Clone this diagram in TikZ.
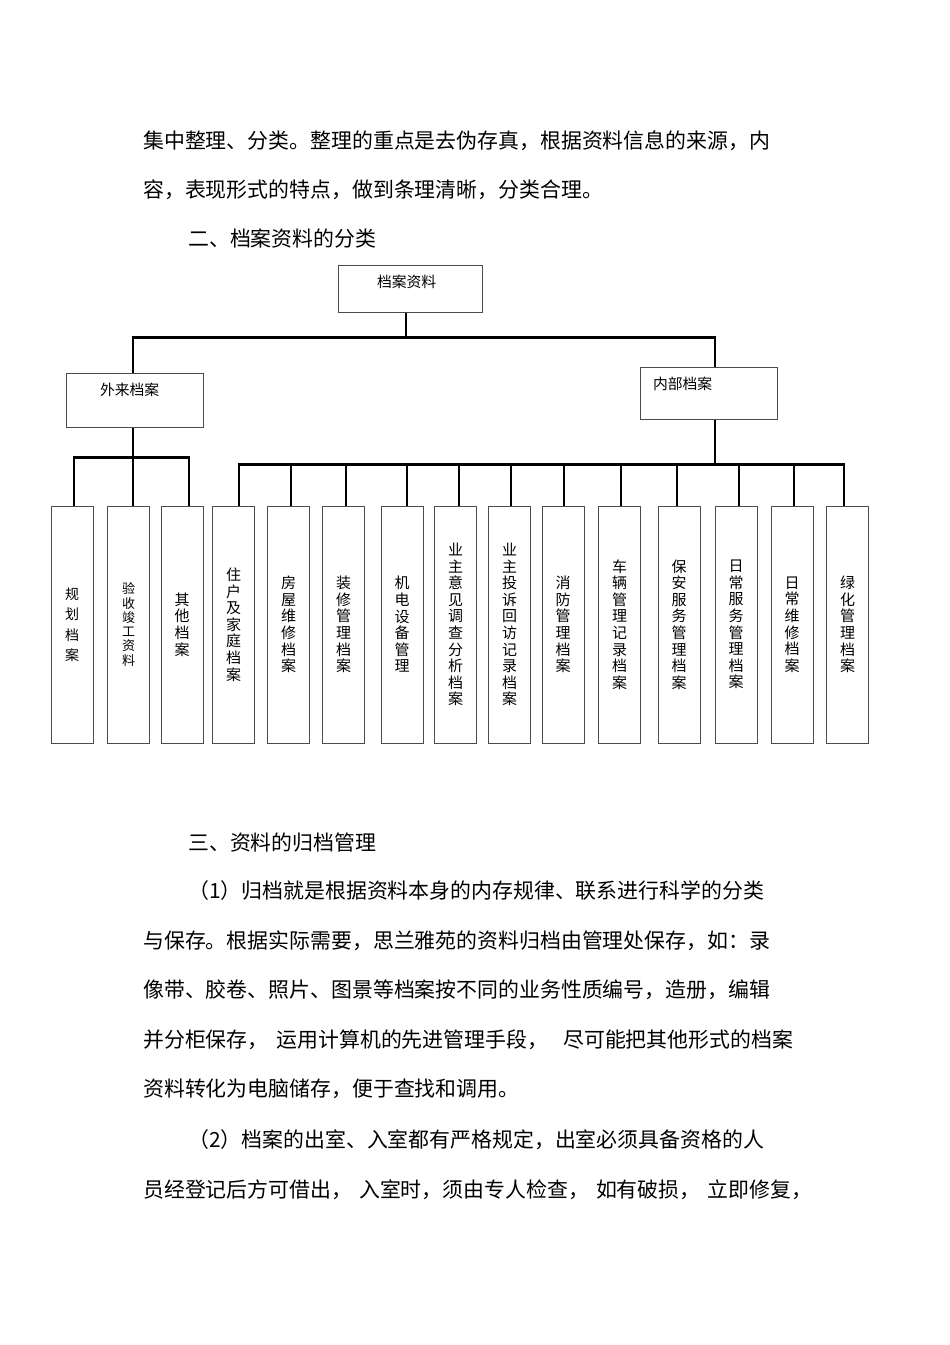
\documentclass[tikz,border=0pt]{standalone}
\usepackage{fontspec}
\setmainfont{Noto Sans CJK SC}
\newfontfamily\cjk{Noto Sans CJK SC}
\newcommand{\bodyfont}{\fontsize{20.9}{25}\cjk}
\newcommand{\lblfont}{\fontsize{14.8}{17}\cjk}
\newcommand{\leaffont}{\fontsize{15}{16.6}\cjk}
\tikzset{
    body/.style={anchor=west,inner sep=0pt,font=\bodyfont,text height=18.4pt,text depth=2.5pt},
    hdbox/.style={draw=black!70,line width=1pt,align=left,inner ysep=0pt,font=\lblfont,text height=13pt},
    leaf/.style={draw=black!70,line width=1pt,minimum width=42pt,minimum height=237pt,inner sep=0pt,align=center,font=\leaffont}
}

\begin{document}
\begin{tikzpicture}[x=1pt,y=-1pt]
        \useasboundingbox (0,0) rectangle (950,1345);
        %---
        \node[body] (p1) at (143,141) {集中整理、分类。整理的重点是去伪存真，根据资料信息的来源，内};
        \node[body] (p2) at (143,190) {容，表现形式的特点，做到条理清晰，分类合理。};
        \node[body] (h2) at (188,239) {二、档案资料的分类};

        \node[body] (h3) at (188,843) {三、资料的归档管理};
        \node[body] (q1) at (188,891) {（1）归档就是根据资料本身的内存规律、联系进行科学的分类};
        \node[body] (q2) at (143,941) {与保存。根据实际需要，思兰雅苑的资料归档由管理处保存，如：录};
        \node[body] (q3) at (143,990) {像带、胶卷、照片、图景等档案按不同的业务性质编号，造册，编辑};
        \node[body] (q4) at (143,1040) {并分柜保存，\hspace{8pt}运用计算机的先进管理手段，\hspace{15pt}尽可能把其他形式的档案};
        \node[body] (q5) at (143,1089) {资料转化为电脑储存，便于查找和调用。};
        \node[body] (r1) at (188,1140) {（2）档案的出室、入室都有严格规定，出室必须具备资格的人};
        \node[body] (r2) at (143,1190) {员经登记后方可借出，\hspace{7pt}入室时，须由专人检查，\hspace{7pt}如有破损，\hspace{7pt}立即修复，};

        %---
        \node[hdbox,minimum height=47pt,text width=66pt,inner xsep=39pt,text depth=14.8pt] (root) at (410,288.5) {档案资料};
        \node[hdbox,minimum height=54pt,text width=69pt,inner xsep=34pt,text depth=21.8pt] (wailai) at (134.5,400) {外来档案};
        \node[hdbox,minimum height=52pt,text width=111pt,inner xsep=13pt,text depth=19.8pt] (neibu) at (708.5,393) {内部档案};

        \node[leaf,font={\fontsize{14}{20.5}\cjk}] (guihua) at (72,624.5) {规\\划\\档\\案};
        \node[leaf,font={\fontsize{13}{14.3}\cjk}] (yanshou) at (128.5,624.5) {验\\收\\竣\\工\\资\\料};
        \node[leaf] (qita) at (182,624.5) {其\\他\\档\\案};
        \node[leaf] (zhuhu) at (233.5,624.5) {住\\户\\及\\家\\庭\\档\\案};
        \node[leaf] (fangwu) at (288.5,624.5) {房\\屋\\维\\修\\档\\案};
        \node[leaf] (zhuangxiu) at (343.5,624.5) {装\\修\\管\\理\\档\\案};
        \node[leaf] (jidian) at (402,624.5) {机\\电\\设\\备\\管\\理};
        \node[leaf] (yijian) at (455.5,624.5) {业\\主\\意\\见\\调\\查\\分\\析\\档\\案};
        \node[leaf] (tousu) at (509.5,624.5) {业\\主\\投\\诉\\回\\访\\记\\录\\档\\案};
        \node[leaf] (xiaofang) at (563,624.5) {消\\防\\管\\理\\档\\案};
        \node[leaf] (cheliang) at (619.5,624.5) {车\\辆\\管\\理\\记\\录\\档\\案};
        \node[leaf] (baoan) at (679,624.5) {保\\安\\服\\务\\管\\理\\档\\案};
        \node[leaf] (richang) at (736,624.5) {日\\常\\服\\务\\管\\理\\档\\案};
        \node[leaf] (weixiu) at (792,624.5) {日\\常\\维\\修\\档\\案};
        \node[leaf] (lvhua) at (847.5,624.5) {绿\\化\\管\\理\\档\\案};

        \begin{scope}[every path/.style={line width=2.2pt}]
            \draw ([xshift=-4pt]root.south) -- ++(0,25) coordinate (rbus);
            \draw ([xshift=-1.5pt]wailai.north) |- (rbus) -| ([xshift=6.5pt]neibu.north);
            % outside branch
            \draw ([xshift=-1.5pt]wailai.south) -- ++(0,30) coordinate (wbus);
            \draw ([xshift=2pt]guihua.north) |- (wbus) -| ([xshift=7pt]qita.north);
            \draw (wbus) -- ([xshift=4.5pt]yanshou.north);
            % inside branch
            \draw ([xshift=6.5pt]neibu.south) -- ++(0,45) coordinate (nbus);
            \draw ([xshift=5.5pt]zhuhu.north) |- (nbus) -| ([xshift=-3.5pt]lvhua.north);
            \draw ([xshift=2.5pt]fangwu.north) -- ++(0,-42);
            \draw ([xshift=2.5pt]zhuangxiu.north) -- ++(0,-42);
            \draw ([xshift=5pt]jidian.north) -- ++(0,-42);
            \draw ([xshift=3.5pt]yijian.north) -- ++(0,-42);
            \draw ([xshift=1.5pt]tousu.north) -- ++(0,-42);
            \draw ([xshift=1pt]xiaofang.north) -- ++(0,-42);
            \draw ([xshift=1.5pt]cheliang.north) -- ++(0,-42);
            \draw ([xshift=-2pt]baoan.north) -- ++(0,-42);
            \draw ([xshift=3pt]richang.north) -- ++(0,-42);
            \draw ([xshift=2pt]weixiu.north) -- ++(0,-42);
        \end{scope}
    \end{tikzpicture}
\end{document}
